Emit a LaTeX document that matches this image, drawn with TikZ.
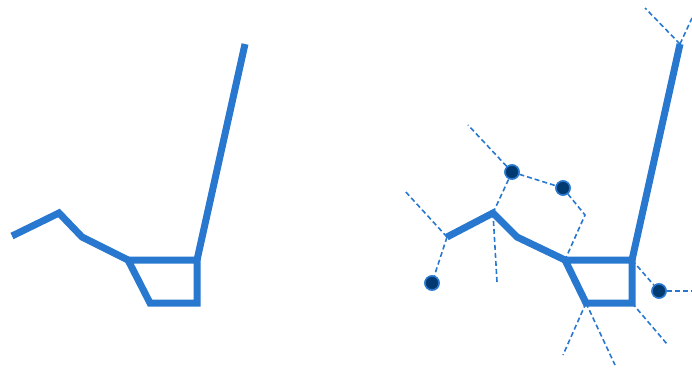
\documentclass[tikz,border=0pt]{standalone}
\begin{document}
\begin{tikzpicture}[x=1pt,y=-1pt,
  thick line/.style={draw=mainblue,line width=7pt,line join=miter},
  dash line/.style={draw=mainblue,line width=1.6pt,dash pattern=on 5pt off 3pt},
  atom/.style={circle,fill=navy,draw=mainblue,line width=1.5pt,minimum size=14pt,inner sep=0pt},
  pt/.style={coordinate}]
\definecolor{mainblue}{HTML}{2878D0}
\definecolor{navy}{HTML}{003A70}
\useasboundingbox (0,0) rectangle (692,367);
% left molecule
\coordinate (a1) at (12,236);
\coordinate (a2) at (59,213);
\coordinate (a3) at (82,237);
\coordinate (a4) at (128,260);
\coordinate (a5) at (150,303);
\coordinate (a6) at (197,303);
\coordinate (a7) at (197,260);
\coordinate (a8) at (245,44);
\draw[thick line] (a1) -- (a2) -- (a3) -- (a4);
\draw[thick line] (a4) -- (a5) -- (a6) -- (a7) -- cycle;
\draw[thick line] (a7) -- (a8);
% right molecule
\coordinate (b1) at (447,237);
\coordinate (b2) at (493,213);
\coordinate (b3) at (517,237);
\coordinate (b4) at (565,260);
\coordinate (b5) at (586,303);
\coordinate (b6) at (632,303);
\coordinate (b7) at (632,260);
\coordinate (b8) at (680,44);
% dashed bonds
\coordinate (d1) at (404,190);
\coordinate (d2) at (468,125);
\coordinate (d3) at (497,282);
\coordinate (d4) at (585,215);
\coordinate (d5) at (563,355);
\coordinate (d6) at (615,365);
\coordinate (d7) at (667,344);
\coordinate (d8) at (692,291);
\coordinate (d9) at (645,8);
\coordinate (d10) at (692,18);
\node[atom] (n1) at (432,283) {};
\node[atom] (n2) at (512,172) {};
\node[atom] (n3) at (563,188) {};
\node[atom] (n4) at (659,291) {};
\draw[dash line] (b1) -- (d1);
\draw[dash line] (b1) -- (n1);
\draw[dash line] (b2) -- (n2);
\draw[dash line] (n2) -- (d2);
\draw[dash line] (n2) -- (n3);
\draw[dash line] (n3) -- (d4) -- (b4);
\draw[dash line] (b2) -- (d3);
\draw[dash line] (b5) -- (d5);
\draw[dash line] (b5) -- (d6);
\draw[dash line] (b6) -- (d7);
\draw[dash line] (b7) -- (n4);
\draw[dash line] (n4) -- (d8);
\draw[dash line] (b8) -- (d9);
\draw[dash line] (b8) -- (d10);
\draw[thick line] (b1) -- (b2) -- (b3) -- (b4);
\draw[thick line] (b4) -- (b5) -- (b6) -- (b7) -- cycle;
\draw[thick line] (b7) -- (b8);
\node[atom] at (n1) {};
\node[atom] at (n2) {};
\node[atom] at (n3) {};
\node[atom] at (n4) {};
\end{tikzpicture}
\end{document}
